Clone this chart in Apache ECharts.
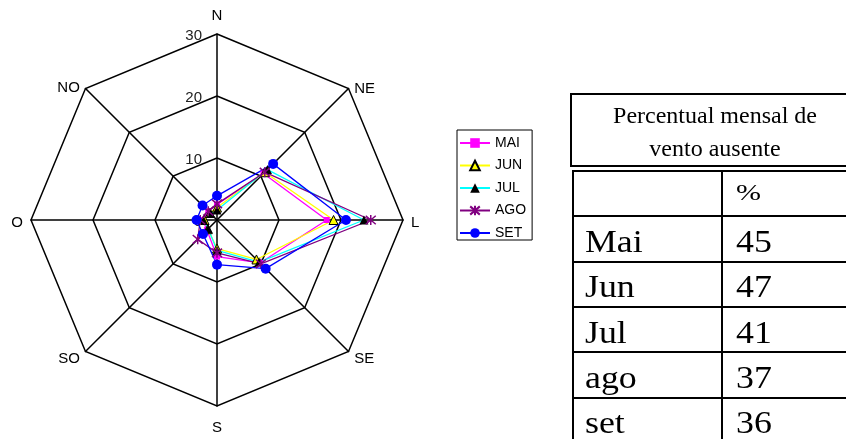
<!DOCTYPE html>
<html>
<head>
<meta charset="utf-8">
<script src="https://cdn.jsdelivr.net/npm/echarts@6/dist/echarts.min.js"></script>
<style>
  html, body { margin: 0; padding: 0; background: #fff; width: 846px; height: 439px; overflow: hidden; }
  #chart { position: absolute; left: 0; top: 0; width: 846px; height: 439px; }
  #titleBox {
    position: absolute; left: 570px; top: 93px; width: 300px; height: 70px;
    border: 2px solid #000; box-sizing: content-box;
    font-family: "Liberation Serif", "Times New Roman", serif; font-size: 24px; color: #000;
  }
  #titleBox div { position: absolute; left: 0; width: 286px; text-align: center; white-space: nowrap; }
  #tbl { position: absolute; left: 572px; top: 170px; width: 400px; height: 300px;
    font-family: "Liberation Serif", "Times New Roman", serif; color: #000; }
  .hline { position: absolute; left: 0; width: 400px; height: 0; border-top: 2px solid #000; }
  .vline { position: absolute; top: 0; width: 0; height: 300px; border-left: 2px solid #000; }
  .cell { position: absolute; white-space: nowrap; font-size: 32px; line-height: 32px;
    transform-origin: left top; transform: scaleX(1.12); }
  .cell.pct { font-size: 24px; line-height: 24px; transform: scaleX(1.25); }
</style>
</head>
<body>
<div id="chart"></div>
<div id="titleBox"></div>
<div id="tbl"></div>
<script>
// ---- data ----
const directions = ['N', 'NE', 'L', 'SE', 'S', 'SO', 'O', 'NO'];
const radialTicks = [0, 10, 20, 30];
const months = ['MAI', 'JUN', 'JUL', 'AGO', 'SET'];
const mai = [2.5, 10.6, 17.7, 9.8, 5.9, 2.3, 2.3, 2.0];
const jun = [2.0, 10.9, 18.8, 9.0, 4.6, 2.1, 2.0, 1.6];
const jul = [1.6, 11.5, 23.7, 9.6, 4.9, 2.0, 2.2, 1.5];
const ago = [2.6, 10.9, 24.8, 10.0, 5.3, 4.4, 2.7, 2.0];
const set = [3.9, 12.8, 20.8, 11.1, 7.2, 3.2, 3.3, 3.3];
const tableTitle = ['Percentual mensal de', 'vento ausente'];
const tableHeader = ['', '%'];
const tableMonths = ['Mai', 'Jun', 'Jul', 'ago', 'set'];
const tablePct = [45, 47, 41, 37, 36];

// ---- styles ----
const styles = {
  MAI: { line: '#FF00FF', symbol: 'rect', size: 6, fill: '#FF00FF', border: '#FF00FF', bw: 0 },
  JUN: { line: '#FFFF00', symbol: 'triangle', size: 9, fill: '#FFFF00', border: '#000000', bw: 1 },
  JUL: { line: '#00FFFF', symbol: 'triangle', size: 9, fill: '#000000', border: '#000000', bw: 0 },
  AGO: { line: '#800080', symbol: 'path://M5,0L5,10M0.7,0.7L9.3,9.3M0.7,9.3L9.3,0.7', size: 10, fill: 'rgba(0,0,0,0)', border: '#800080', bw: 1.5 },
  SET: { line: '#0000FF', symbol: 'circle', size: 10, fill: '#0000FF', border: '#0000FF', bw: 0 }
};
const values = { MAI: mai, JUN: jun, JUL: jul, AGO: ago, SET: set };

// per-direction name placement tweaks (gap / vertical shift)
const nameTweak = {
  N:  { gap: 11 },
  S:  { gap: 14 },
  NE: { gap: 8, lh: 12 }, NO: { gap: 8, lh: 11 },
  L:  { gap: 8, lh: 6 },  O:  { gap: 8, lh: 6 },
  SE: { gap: 8, lh: 3 }, SO: { gap: 8, lh: 3 }
};

// ECharts radar places indicators counter-clockwise; reorder so directions run clockwise.
const order = [0, 7, 6, 5, 4, 3, 2, 1];

const indicator = order.map((i, k) => {
  const d = directions[i];
  const t = nameTweak[d];
  const o = { name: d, min: radialTicks[0], max: radialTicks[radialTicks.length - 1], nameGap: t.gap };
  if (t.lh) o.nameTextStyle = { verticalAlign: 'top', lineHeight: t.lh };
  if (k === 0) {
    o.axisLabel = { show: true, color: '#222', fontSize: 15, margin: 15, verticalAlign: 'top', lineHeight: 4,
      fontFamily: 'Liberation Sans, Arial, sans-serif' };
  }
  return o;
});

const series = [];
months.forEach(m => {
  const s = styles[m];
  series.push({
    type: 'radar',
    name: 'r' + m,
    symbol: s.symbol,
    symbolSize: s.size,
    itemStyle: { color: s.fill, borderColor: s.border, borderWidth: s.bw },
    lineStyle: { color: s.line, width: 1.3 },
    data: [{ name: m, value: order.map(i => values[m][i]) }],
    animation: false
  });
});
// Legend proxies (line series so legend shows line + marker)
months.forEach(m => {
  const s = styles[m];
  series.push({
    type: 'line',
    name: m,
    symbol: s.symbol,
    symbolSize: s.size,
    itemStyle: { color: s.fill, borderColor: s.border, borderWidth: s.bw },
    lineStyle: { color: s.line, width: 1.3 },
    data: [],
    animation: false
  });
});

const chart = echarts.init(document.getElementById('chart'), null, { renderer: 'canvas' });
chart.setOption({
  animation: false,
  backgroundColor: '#fff',
  grid: { left: 0, top: 0, width: 1, height: 1, show: false },
  xAxis: { type: 'value', show: false },
  yAxis: { type: 'value', show: false },
  legend: {
    data: months,
    orient: 'vertical',
    left: 457,
    top: 130,
    itemWidth: 30,
    itemHeight: 12,
    itemGap: 8.5,
    padding: [6, 6, 0, 2],
    borderColor: '#000',
    borderWidth: 1,
    textStyle: { color: '#000', fontSize: 14, fontFamily: 'Liberation Sans, Arial, sans-serif' }
  },
  radar: {
    center: [217, 220],
    radius: 186,
    startAngle: 90,
    shape: 'polygon',
    splitNumber: 3,
    indicator: indicator,
    nameGap: 8,
    axisName: { color: '#000', fontSize: 15, fontFamily: 'Liberation Sans, Arial, sans-serif' },
    splitLine: { lineStyle: { color: '#000', width: 1.5 } },
    splitArea: { show: false },
    axisLine: { lineStyle: { color: '#000', width: 1.5 } },
    axisTick: { show: false },
    axisLabel: { show: false }
  },
  series: series
});

// ---- table ----
const tb = document.getElementById('titleBox');
tableTitle.forEach((t, i) => {
  const d = document.createElement('div');
  d.textContent = t;
  d.style.top = (i === 0 ? 7 : 40) + 'px';
  tb.appendChild(d);
});
const tbl = document.getElementById('tbl');
const rowH = 45.3;
const nRows = tableMonths.length + 1;
for (let r = 0; r <= nRows; r++) {
  const h = document.createElement('div'); h.className = 'hline';
  h.style.top = (r * rowH) + 'px';
  tbl.appendChild(h);
}
[0, 149].forEach(x => {
  const v = document.createElement('div'); v.className = 'vline';
  v.style.left = x + 'px';
  tbl.appendChild(v);
});
function addCell(text, x, y, cls) {
  const c = document.createElement('div');
  c.className = 'cell' + (cls ? ' ' + cls : '');
  c.textContent = text;
  c.style.left = x + 'px';
  c.style.top = y + 'px';
  tbl.appendChild(c);
}
addCell(tableHeader[0], 13, 10);
addCell(tableHeader[1], 164, 10, 'pct');
tableMonths.forEach((m, i) => {
  const y = (i + 1) * rowH + 9.6;
  addCell(m, 13, y);
  addCell(String(tablePct[i]), 164, y);
});
</script>
</body>
</html>
